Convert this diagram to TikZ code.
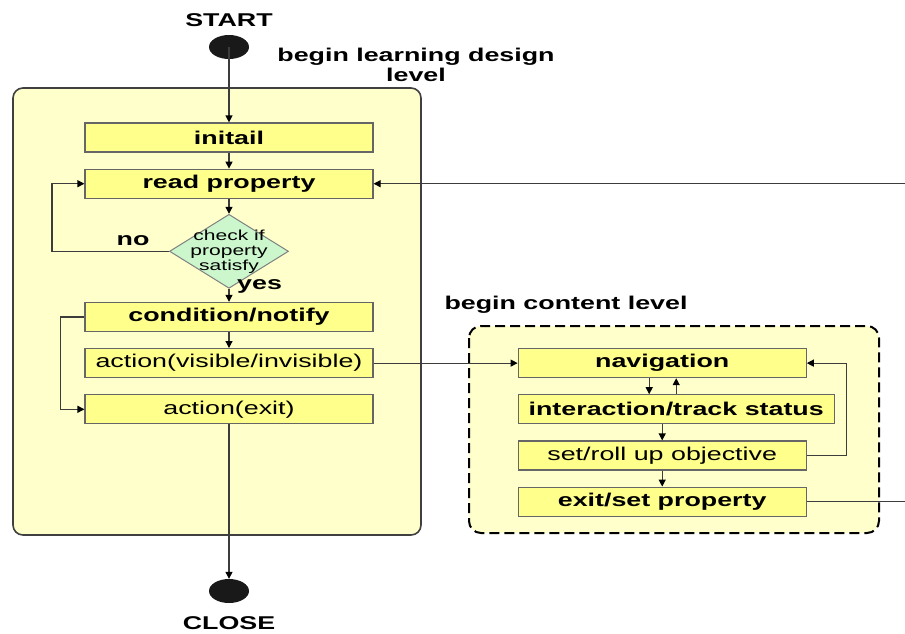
\documentclass[tikz,border=0pt]{standalone}
\usepackage{fontspec}
\setmainfont[FakeStretch=1.45]{Liberation Sans}
\usepackage{tikz}
\usetikzlibrary{arrows.meta,shapes,positioning}

\definecolor{panelfill}{HTML}{FFFFCC}
\definecolor{boxfill}{HTML}{FFFF8C}
\definecolor{decfill}{HTML}{CCF7CC}
\definecolor{wire}{HTML}{3C3C3C}

\newcommand{\bigtext}{\fontsize{18.5}{20}\selectfont}

\tikzset{
    box/.style={rectangle,draw=black!60,line width=1.2pt,fill=boxfill,
        minimum width=288pt,minimum height=29pt,inner sep=0pt,font=\bigtext\bfseries},
    plainbox/.style={box,font=\bigtext\mdseries},
    decision/.style={diamond,draw=black!50,line width=1pt,fill=decfill,
        minimum width=119pt,minimum height=74pt,inner sep=0pt},
    dot/.style={ellipse,fill=black!90,minimum width=40pt,minimum height=24pt,inner sep=0pt},
    flow/.style={draw=wire,line width=1.2pt,-{Triangle[length=7pt,width=7pt,fill=black,color=black]}},
    wireline/.style={draw=wire,line width=1.2pt},
    lbl/.style={font=\bigtext\bfseries,inner sep=0pt}
}

\begin{document}
\begin{tikzpicture}[x=1pt,y=-1pt]
    \useasboundingbox (0,0) rectangle (905,633);
    % panels
    \draw[fill=panelfill,draw=black!75,line width=1.6pt,rounded corners=10pt]
        (13,88) rectangle (421,535);
    \draw[fill=panelfill,draw=black,line width=2pt,dash pattern=on 10pt off 5pt,rounded corners=12pt]
        (469,326) rectangle (879,533);

    % learning design level
    \node[lbl] (start) at (229,20) {START};
    \node[dot] (startdot) at (229,47) {};
    \node[lbl,align=center] (ldlabel) at (416,65) {begin learning design\\level};
    \node[box] (init) at (229,137.5) {initail};
    \node[box,below=16pt of init] (read) {read property};
    \node[decision,below=15pt of read,
        label={[align=center,font=\fontsize{14.5}{15}\selectfont]center:check if\\property\\satisfy}] (chk) {};
    \node[lbl,above left=5pt and 36pt of chk.west,anchor=south] (no) {no};
    \node[lbl,below right=-9pt and 8pt of chk.south,anchor=north west] (yes) {yes};
    \node[box,below=13pt of chk] (cond) {condition/notify};
    \node[plainbox,below=16pt of cond] (vis) {action(visible/invisible)};
    \node[plainbox,below=16pt of vis] (exit) {action(exit)};
    \node[dot] (closedot) at (229,591) {};
    \node[lbl] (close) at (229,623) {CLOSE};

    % content level
    \node[lbl] (cllabel) at (566,305) {begin content level};
    \node[box,right=144pt of vis] (nav) {navigation};
    \node[box,minimum width=316pt,below right=16pt and 0pt of nav.south west] (inter) {interaction/track status};
    \node[plainbox,below right=16pt and 0pt of inter.south west] (obj) {set/roll up objective};
    \node[box,below=16pt of obj] (setp) {exit/set property};
    \coordinate (edge) at (905,0);

    % connectors
    \draw[flow] (startdot.center) -- (init);
    \draw[flow] (init) -- (read);
    \draw[flow] (read) -- (chk);
    \draw[flow] (chk) -- (cond);
    \draw[flow] (cond) -- (vis);
    \draw[flow] (chk.west) -- ++(-117,0) |- (read.west);
    \draw[flow] (cond.west) -- ++(-24,0) |- (exit.west);
    \draw[flow] (exit) -- (closedot);
    \draw[flow] (edge |- read.east) -- (read.east);
    \draw[flow] (vis.east) -- (nav.west);
    \draw[flow] ([xshift=-13pt]nav.south) -- ([xshift=-13pt]nav.south |- inter.north);
    \draw[flow] ([xshift=14pt]nav.south |- inter.north) -- ([xshift=14pt]nav.south);
    \draw[flow] (obj.north |- inter.south) -- (obj.north);
    \draw[flow] (obj) -- (setp);
    \draw[flow] (obj.east) -- ++(40,0) |- (nav.east);
    \draw[wireline] (setp.east) -- (edge |- setp.east);
\end{tikzpicture}
\end{document}
